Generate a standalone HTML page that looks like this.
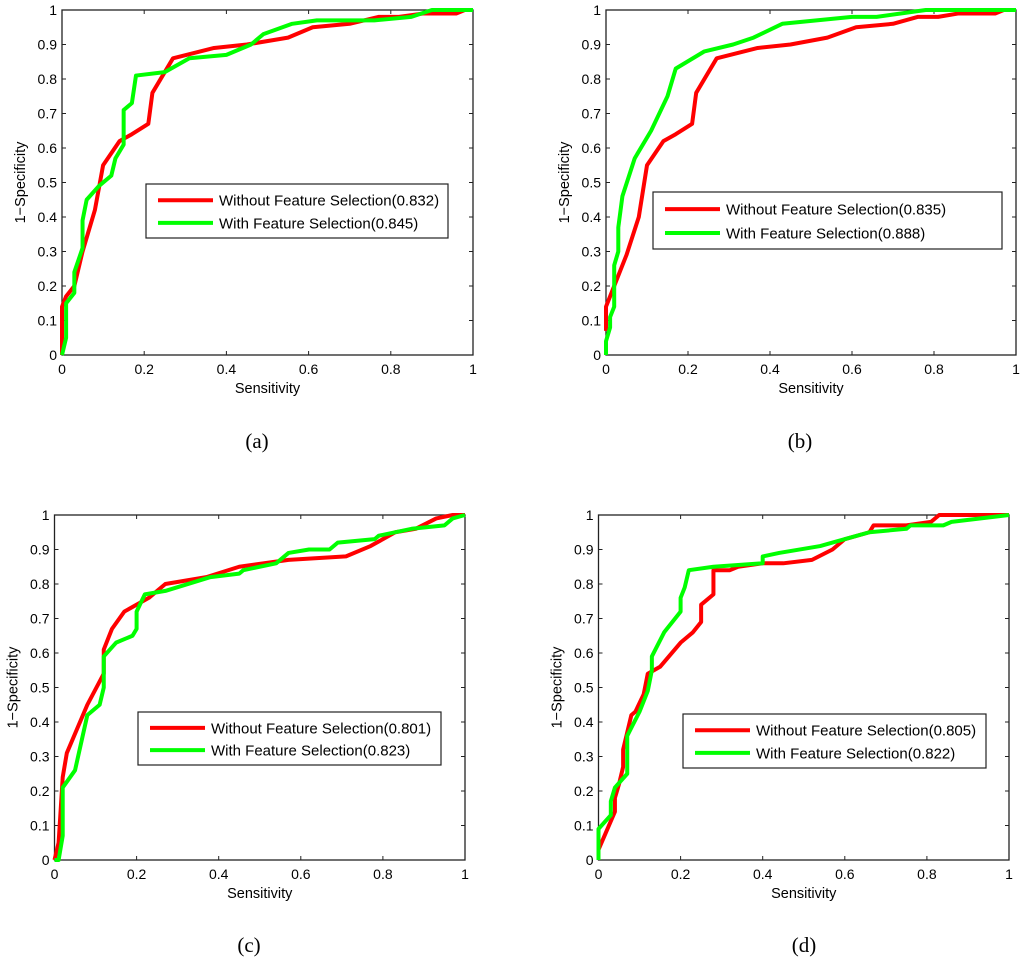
<!DOCTYPE html>
<html><head><meta charset="utf-8"><style>
body{margin:0;background:#fff;width:1024px;height:963px;overflow:hidden}
svg{display:block}
text{font-family:"Liberation Sans",sans-serif;fill:#000}
.cap{font-family:"Liberation Serif",serif;font-size:21px}
</style></head><body>
<svg id="s" width="1024" height="963"></svg>
<script>
const ticks=[0,0.1,0.2,0.3,0.4,0.5,0.6,0.7,0.8,0.9,1];
const xticks=[0,0.2,0.4,0.6,0.8,1];
const tickLabels=["0","0.1","0.2","0.3","0.4","0.5","0.6","0.7","0.8","0.9","1"];
const xtickLabels=["0","0.2","0.4","0.6","0.8","1"];
const panelIds=["a","b","c","d"];
const aucWithout=["0.832","0.835","0.801","0.805"];
const aucWith=["0.845","0.888","0.823","0.822"];
const aRedX=[0,0,0.01,0.03,0.05,0.08,0.10,0.14,0.17,0.21,0.22,0.27,0.37,0.45,0.55,0.61,0.70,0.77,0.82,0.88,0.96,0.98,1];
const aRedY=[0,0.14,0.17,0.2,0.3,0.42,0.55,0.62,0.64,0.67,0.76,0.86,0.89,0.90,0.92,0.95,0.96,0.98,0.98,0.99,0.99,1,1];
const aGreenX=[0,0.01,0.01,0.03,0.03,0.05,0.05,0.06,0.09,0.12,0.13,0.15,0.15,0.17,0.18,0.25,0.31,0.40,0.46,0.49,0.56,0.62,0.76,0.85,0.90,1];
const aGreenY=[0,0.05,0.15,0.18,0.24,0.31,0.39,0.45,0.49,0.52,0.57,0.61,0.71,0.73,0.81,0.82,0.86,0.87,0.90,0.93,0.96,0.97,0.97,0.98,1,1];
const bRedX=[0,0,0.01,0.02,0.05,0.08,0.10,0.14,0.17,0.21,0.22,0.27,0.37,0.45,0.54,0.61,0.70,0.76,0.81,0.86,0.95,0.97,1];
const bRedY=[0.07,0.14,0.17,0.2,0.29,0.40,0.55,0.62,0.64,0.67,0.76,0.86,0.89,0.90,0.92,0.95,0.96,0.98,0.98,0.99,0.99,1,1];
const bGreenX=[0,0,0.01,0.01,0.02,0.02,0.03,0.03,0.04,0.07,0.11,0.15,0.17,0.24,0.31,0.36,0.43,0.60,0.66,0.78,1];
const bGreenY=[0,0.04,0.08,0.11,0.14,0.26,0.3,0.37,0.46,0.57,0.65,0.75,0.83,0.88,0.90,0.92,0.96,0.98,0.98,1,1];
const cRedX=[0,0.01,0.02,0.03,0.08,0.12,0.12,0.14,0.17,0.23,0.27,0.37,0.45,0.57,0.71,0.77,0.83,0.88,0.93,0.97,1];
const cRedY=[0,0.05,0.24,0.31,0.45,0.54,0.61,0.67,0.72,0.76,0.80,0.82,0.85,0.87,0.88,0.91,0.95,0.96,0.99,1,1];
const cGreenX=[0,0.01,0.02,0.02,0.05,0.08,0.11,0.12,0.12,0.15,0.19,0.20,0.20,0.22,0.27,0.38,0.45,0.46,0.54,0.57,0.62,0.67,0.69,0.78,0.79,0.87,0.95,0.97,1];
const cGreenY=[0,0,0.07,0.21,0.26,0.42,0.45,0.5,0.59,0.63,0.65,0.67,0.72,0.77,0.78,0.82,0.83,0.84,0.86,0.89,0.90,0.90,0.92,0.93,0.94,0.96,0.97,0.99,1];
const dRedX=[0,0.04,0.04,0.05,0.06,0.06,0.08,0.09,0.11,0.12,0.15,0.20,0.23,0.25,0.25,0.28,0.28,0.32,0.34,0.40,0.45,0.52,0.57,0.60,0.66,0.67,0.75,0.81,0.83,1];
const dRedY=[0.03,0.14,0.18,0.22,0.27,0.32,0.42,0.43,0.48,0.54,0.56,0.63,0.66,0.69,0.74,0.77,0.84,0.84,0.85,0.86,0.86,0.87,0.90,0.93,0.95,0.97,0.97,0.98,1,1];
const dGreenX=[0,0,0.03,0.03,0.04,0.07,0.07,0.10,0.12,0.13,0.13,0.16,0.20,0.20,0.21,0.22,0.28,0.40,0.40,0.44,0.54,0.57,0.66,0.75,0.76,0.84,0.86,1];
const dGreenY=[0,0.09,0.13,0.17,0.21,0.25,0.36,0.43,0.49,0.55,0.59,0.66,0.72,0.76,0.79,0.84,0.85,0.86,0.88,0.89,0.91,0.92,0.95,0.96,0.97,0.97,0.98,1];
const series=[[aRedX,aRedY,aGreenX,aGreenY],[bRedX,bRedY,bGreenX,bGreenY],[cRedX,cRedY,cGreenX,cGreenY],[dRedX,dRedY,dGreenX,dGreenY]];

const layout=[
 {x0:62,x1:473,y0:355,y1:10,lg:[146,184,302,54],cap:[257,448]},
 {x0:606,x1:1016,y0:355,y1:10,lg:[653,192,349,57],cap:[800,448]},
 {x0:54.5,x1:465,y0:860,y1:515,lg:[138,712,303,53],cap:[249,952]},
 {x0:598.5,x1:1009,y0:860,y1:515,lg:[683,714,303,54],cap:[804,952]}
];
const NS="http://www.w3.org/2000/svg";
const svg=document.getElementById('s');
function mk(tag,attrs,parent,txt){const e=document.createElementNS(NS,tag);for(const k in attrs)e.setAttribute(k,attrs[k]);if(txt!==undefined)e.textContent=txt;(parent||svg).appendChild(e);return e;}
layout.forEach((L,i)=>{
 const g=mk('g',{});
 
 
 const sx=v=>L.x0+v*(L.x1-L.x0), sy=v=>L.y0+v*(L.y1-L.y0);
 const ax=mk('rect',{x:L.x0,y:L.y1,width:L.x1-L.x0,height:L.y0-L.y1,fill:'none',stroke:'#222','stroke-width':1.3},g);
 
 
 ticks.forEach((t,j)=>{
  const y=sy(t);
  mk('line',{x1:L.x0,x2:L.x0+4,y1:y,y2:y,stroke:'#222'},g);
  mk('line',{x1:L.x1,x2:L.x1-4,y1:y,y2:y,stroke:'#222'},g);
  const tl=mk('text',{x:L.x0-5,y:y+5,'text-anchor':'end','font-size':14},g,tickLabels[j]);
  
  
 });
 xticks.forEach((t,j)=>{
  const x=sx(t);
  mk('line',{x1:x,x2:x,y1:L.y0,y2:L.y0-4,stroke:'#222'},g);
  mk('line',{x1:x,x2:x,y1:L.y1,y2:L.y1+4,stroke:'#222'},g);
  const tl=mk('text',{x:x,y:L.y0+19,'text-anchor':'middle','font-size':14},g,xtickLabels[j]);
  
  
 });
 const xt=mk('text',{x:(L.x0+L.x1)/2,y:L.y0+38,'text-anchor':'middle','font-size':14.5},g,'Sensitivity');
 
 
 const cy=(L.y0+L.y1)/2, cx=L.x0-37;
 const yt=mk('text',{x:cx,y:cy,'text-anchor':'middle','font-size':14.5,transform:`rotate(-90 ${cx} ${cy})`},g,'1\u2212Specificity');
 
 
 const S=series[i];
 [[S[0],S[1],'#ff0000','roc-without-fs'],[S[2],S[3],'#00ff00','roc-with-fs']].forEach(([X,Y,c,n])=>{
  const p=mk('polyline',{points:X.map((v,k)=>sx(v)+','+sy(Y[k])).join(' '),fill:'none',stroke:c,'stroke-width':4,'stroke-linejoin':'round'},g);
  
  
 });
 const [lx,ly,lw,lh]=L.lg;
 const lg=mk('g',{},g);
 
 
 mk('rect',{x:lx,y:ly,width:lw,height:lh,fill:'#fff',stroke:'#222','stroke-width':1.2},lg);
 const r1=ly+lh*0.3, r2=ly+lh*0.72;
 mk('line',{x1:lx+12,x2:lx+67,y1:r1,y2:r1,stroke:'#ff0000','stroke-width':4},lg);
 mk('line',{x1:lx+12,x2:lx+67,y1:r2,y2:r2,stroke:'#00ff00','stroke-width':4},lg);
 const e1=mk('text',{x:lx+73,y:r1+5.5,'font-size':15},lg,'Without Feature Selection('+aucWithout[i]+')');
 
 
 const e2=mk('text',{x:lx+73,y:r2+5.5,'font-size':15},lg,'With Feature Selection('+aucWith[i]+')');
 
 
 const cp=mk('text',{x:L.cap[0],y:L.cap[1],'text-anchor':'middle',class:'cap'},g,'('+panelIds[i]+')');
 
 
});
</script>
</body></html>
